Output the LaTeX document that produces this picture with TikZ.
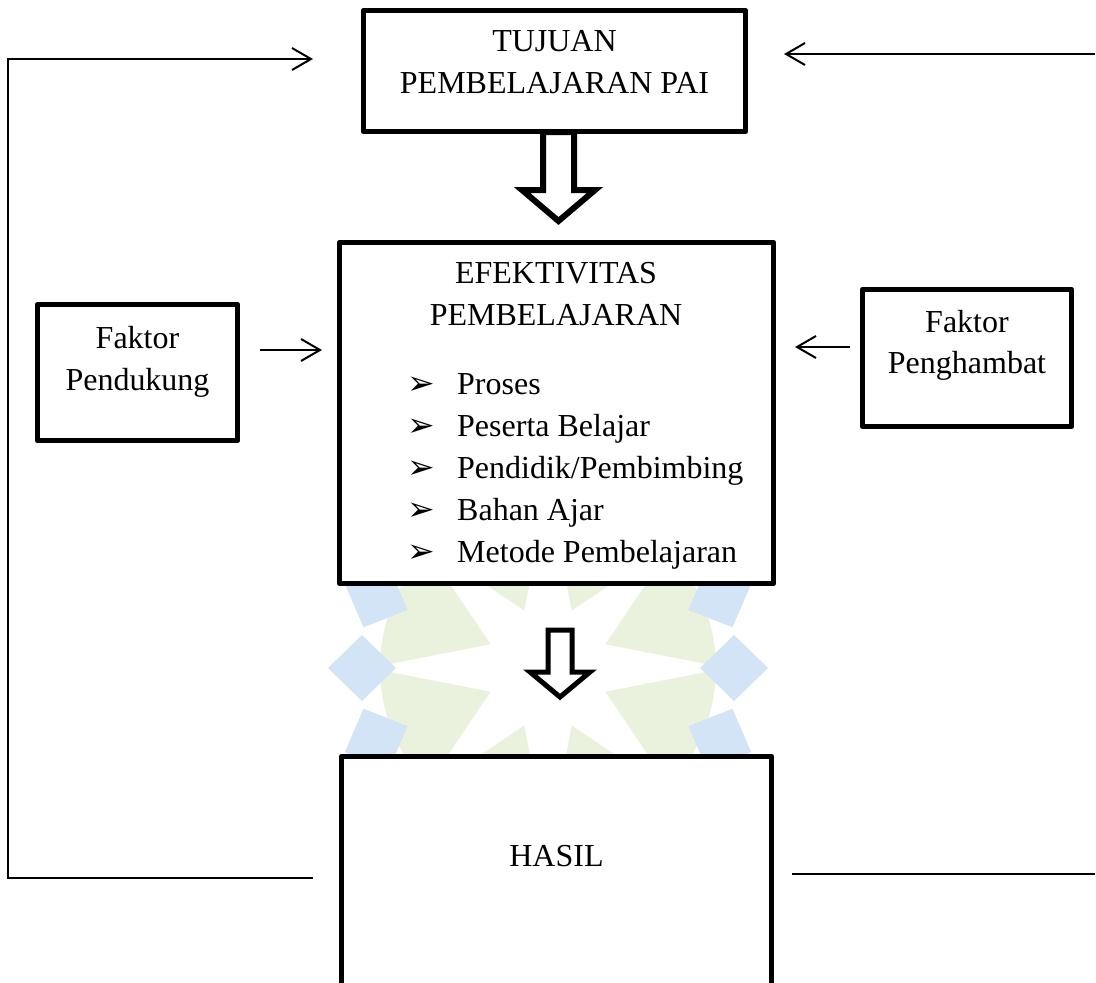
\documentclass[tikz,border=0pt]{standalone}
\usepackage{fontspec}
\setmainfont{Liberation Serif}
\newfontfamily\dejavu{DejaVu Sans}
\usetikzlibrary{arrows.meta}
\definecolor{wmblue}{RGB}{210,228,245}
\definecolor{wmgreen}{RGB}{234,242,222}
\begin{document}
\begin{tikzpicture}[x=1pt,y=-1pt,
  boxnode/.style={draw=black, fill=white, line width=5.5pt, line join=round, inner sep=0pt, rectangle},
  conn/.style={line width=2pt},
  arr/.style={conn, -{Straight Barb[length=19pt,width=22pt,line width=2pt]}},
  blockarrow/.style={draw=black, fill=white, line join=miter},
  txt/.style={inner sep=0pt, font=\fontsize{32}{42}\selectfont, anchor=base},
  item/.style={inner sep=0pt, font=\fontsize{32}{42}\selectfont, anchor=base west},
  bullet/.style={inner sep=0pt, font=\dejavu\fontsize{33}{36}\selectfont, anchor=base west}]
\clip (0,0) rectangle (1096,983);
\fill[white] (0,0) rectangle (1096,983);

% watermark (faint emblem)
\begin{scope}[shift={(548,668)}]
  \fill[wmgreen] (0,0) circle (168);
  \fill[white] (0:178) -- (22.5:62) -- (45:178) -- (67.5:62) -- (90:178) -- (112.5:62)
     -- (135:178) -- (157.5:62) -- (180:178) -- (202.5:62) -- (225:178) -- (247.5:62)
     -- (270:178) -- (292.5:62) -- (315:178) -- (337.5:62) -- cycle;
  \foreach \a in {0,22.5,...,337.5}
    \fill[wmblue, rotate=\a] (152,0) -- (186,-33) -- (220,0) -- (186,33) -- cycle;
\end{scope}

% boxes
\node[boxnode, minimum width=382pt, minimum height=121pt] (tujuan) at (554.5,71) {};
\node[boxnode, minimum width=434pt, minimum height=341pt] (efek) at (556.5,413) {};
\node[boxnode, minimum width=200pt, minimum height=136pt] (pend) at (137.5,372.5) {};
\node[boxnode, minimum width=209pt, minimum height=137pt] (ham) at (967,358) {};
\node[boxnode, minimum width=430pt, minimum height=254pt] (hasil) at (556.5,883.5) {};

% texts
\node[txt] (t1) at (554.5,51) {TUJUAN};
\node[txt] (t2) at (554.5,93) {PEMBELAJARAN PAI};
\node[txt] (e1) at (556,283) {EFEKTIVITAS};
\node[txt] (e2) at (556,325) {PEMBELAJARAN};
\node[bullet] (b1) at (407,394) {➢};
\node[bullet] (b2) at (407,436) {➢};
\node[bullet] (b3) at (407,478) {➢};
\node[bullet] (b4) at (407,520) {➢};
\node[bullet] (b5) at (407,562) {➢};
\node[item] (i1) at (457,394) {Proses};
\node[item] (i2) at (457,436) {Peserta Belajar};
\node[item] (i3) at (457,478) {Pendidik/Pembimbing};
\node[item] (i4) at (457,520) {Bahan Ajar};
\node[item] (i5) at (457,562) {Metode Pembelajaran};
\node[txt] (p1) at (137.5,348) {Faktor};
\node[txt] (p2) at (137.5,390) {Pendukung};
\node[txt] (h1) at (967,332) {Faktor};
\node[txt] (h2) at (967,373) {Penghambat};
\node[txt] (hs) at (556.5,866) {HASIL};

% block arrows
\draw[blockarrow, line width=6pt] (543,132) -- (543,190) -- (522,190) -- (558.5,221)
   -- (595,190) -- (574,190) -- (574,132) -- cycle;
\draw[blockarrow, line width=5pt] (548,630) -- (572,630) -- (572,672) -- (590,672)
   -- (560,697) -- (530,672) -- (548,672) -- cycle;

% connectors
\coordinate (L1) at (313,878);
\coordinate (L2) at (8,878);
\coordinate (L3) at (8,59);
\coordinate (L4) at (313,59);
\draw[arr] (L1) -- (L2) -- (L3) -- (L4);
\coordinate (R1) at (1095,54);
\coordinate (R2) at (784,54);
\draw[arr] (R1) -- (R2);
\coordinate (R3) at (1095,874);
\coordinate (R4) at (792,874);
\draw[conn] (R3) -- (R4);
\coordinate (P1) at (260,350);
\coordinate (P2) at (322,350);
\draw[arr] (P1) -- (P2);
\coordinate (H1) at (850,347);
\coordinate (H2) at (795,347);
\draw[arr] (H1) -- (H2);
\end{tikzpicture}
\end{document}
